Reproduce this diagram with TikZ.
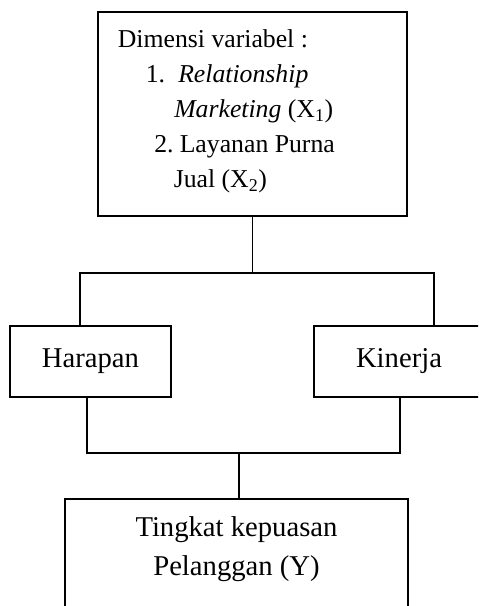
\documentclass[tikz,border=0pt]{standalone}
\usepackage{fontspec}
\setmainfont{Liberation Serif}
\begin{document}
\begin{tikzpicture}[x=0.75pt,y=-0.75pt,
  box/.style={draw,line width=1.3pt,rectangle,inner sep=0pt,outer sep=0pt},
  conn/.style={line width=1.3pt},
  small/.style={font=\fontsize{19.3}{23}\selectfont,inner sep=0pt,anchor=base west},
  big/.style={font=\fontsize{21.5}{26}\selectfont}]
\useasboundingbox (0,0) rectangle (478,606);
\fill[white] (0,0) rectangle (478,606);
\clip (0,0) rectangle (478,606);
% boxes
\node[box,minimum width=231.75pt,minimum height=153pt] (dim) at (252.5,114) {};
\node[box,big,minimum width=120.75pt,minimum height=53.25pt] (har) at (90.5,361.5) {Harapan};
\node[box,big,minimum width=127.5pt,minimum height=53.25pt] (kin) at (399,361.5) {Kinerja};
\node[box,minimum width=257.25pt,minimum height=113.25pt] (tk) at (236.5,574.5) {};
% top box text
\node[small] (t0) at (117.6,47.5) {Dimensi variabel :};
\node[small] (t1n) at (145.5,82.5) {1.};
\node[small] (t1a) at (178,82.5) {\textit{Relationship}};
\node[small] (t1b) at (174,117.5) {\textit{Marketing} (X\textsubscript{1})};
\node[small] (t2n) at (154,152.5) {2.};
\node[small] (t2a) at (179.5,152.5) {Layanan Purna};
\node[small] (t2b) at (173.5,187.5) {Jual (X\textsubscript{2})};
% bottom box text
\node[big,inner sep=0pt,anchor=base] (tk1) at (236.5,536.5) {Tingkat kepuasan};
\node[big,inner sep=0pt,anchor=base] (tk2) at (236.5,575) {Pelanggan (Y)};
% connectors
\coordinate (j1) at (252.5,273);
\coordinate (hl) at (80,273);
\coordinate (hr) at (434,273);
\coordinate (bl) at (87,453);
\coordinate (br) at (400,453);
\coordinate (bc) at (239,453);
\draw[conn] (dim.south) -- (j1);
\draw[conn] (hl |- har.north) -- (hl) -- (hr) -- (hr |- kin.north);
\draw[conn] (bl |- har.south) -- (bl) -- (br) -- (br |- kin.south);
\draw[conn] (bc) -- (bc |- tk.north);
\end{tikzpicture}
\end{document}
